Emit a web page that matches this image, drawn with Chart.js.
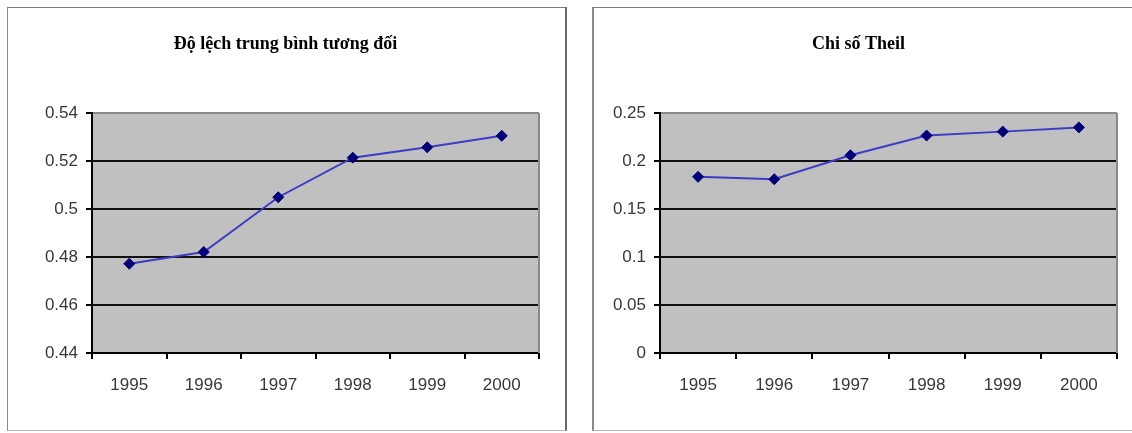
<!DOCTYPE html>
<html><head><meta charset="utf-8">
<script src="https://cdn.jsdelivr.net/npm/chart.js@4.4.0/dist/chart.umd.min.js"></script>
<style>
html,body{margin:0;padding:0;background:#fff;width:1132px;height:433px;overflow:hidden;}
.box{position:absolute;box-sizing:border-box;background:#fff;}
#b1{left:7px;top:7px;width:560px;height:424px;border-top:1px solid #7a7a7a;border-left:1px solid #8a8a8a;border-right:2px solid #6a6a6a;border-bottom:1px solid #b8b8b8;}
#b2{left:592px;top:7px;width:560px;height:424px;border-top:1px solid #7a7a7a;border-left:2px solid #8a8a8a;border-bottom:1px solid #b8b8b8;}
canvas{display:block;}
</style></head>
<body>
<div class="box" id="b1"><canvas id="c1" width="557" height="422"></canvas></div>
<div class="box" id="b2"><canvas id="c2" width="558" height="422"></canvas></div>
<script>
const years = ['1995', '1996', '1997', '1998', '1999', '2000'];
const relMeanDev = [0.4772, 0.4821, 0.5049, 0.5214, 0.5257, 0.5305];
const theilIndex = [0.1835, 0.181, 0.206, 0.2265, 0.2306, 0.235];
const leftTitle = 'Độ lệch trung bình tương đối';
const rightTitle = 'Chi số Theil';
const leftAxis = [0.44, 0.54, 0.02];
const rightAxis = [0, 0.25, 0.05];

const plotBg = {
  id: 'plotBg',
  beforeDraw(chart) {
    const {ctx, chartArea: a} = chart;
    ctx.save();
    ctx.fillStyle = '#c0c0c0';
    ctx.fillRect(a.left, a.top, a.right - a.left, a.bottom - a.top);
    ctx.restore();
  },
  afterDatasetsDraw(chart) {
    const {ctx, chartArea: a} = chart;
    ctx.save();
    ctx.strokeStyle = '#8a8a8a';
    ctx.lineWidth = 2;
    ctx.beginPath();
    ctx.moveTo(a.right, a.top);
    ctx.lineTo(a.right, a.bottom);
    ctx.stroke();
    ctx.restore();
  }
};

function makeChart(id, title, values, axis, padL, padR, yW) {
  const tickFont = {family: "'Liberation Sans', Arial, sans-serif", size: 17};
  return new Chart(document.getElementById(id), {
    type: 'line',
    data: {
      labels: years,
      datasets: [{
        data: values,
        borderColor: '#3c3cc4',
        borderWidth: 2,
        pointStyle: 'rectRot',
        pointRadius: 5.5,
        pointBackgroundColor: '#00007a',
        pointBorderColor: '#00007a',
        pointBorderWidth: 1,
        tension: 0,
        clip: false
      }]
    },
    options: {
      responsive: false,
      animation: false,
      events: [],
      layout: {padding: {left: padL, right: padR, top: 0, bottom: 0}},
      plugins: {
        legend: {display: false},
        tooltip: {enabled: false},
        title: {
          display: true,
          text: title,
          color: '#000',
          font: {family: "'Liberation Serif', 'Times New Roman', serif", size: 18, weight: 'bold', lineHeight: 1.2},
          padding: {top: 26, bottom: 57.4}
        }
      },
      scales: {
        x: {
          offset: true,
          grid: {offset: true, drawOnChartArea: false, drawTicks: true, tickLength: 6, color: '#000', lineWidth: 2},
          border: {color: '#000', width: 2},
          ticks: {color: '#383838', font: tickFont, padding: 16, maxRotation: 0},
          afterFit(s) { s.height = 77; }
        },
        y: {
          min: axis[0],
          max: axis[1],
          grid: {
            color: c => (c.tick && Math.abs(c.tick.value - axis[1]) < 1e-9) ? '#8a8a8a' : '#111',
            lineWidth: 2,
            tickLength: 6,
            tickColor: '#000'
          },
          border: {color: '#000', width: 2},
          ticks: {
            stepSize: axis[2],
            color: '#383838',
            font: tickFont,
            padding: 8,
            callback: v => String(+(+v).toFixed(2))
          },
          afterFit(s) { s.width = yW; }
        }
      }
    },
    plugins: [plotBg]
  });
}

makeChart('c1', leftTitle, relMeanDev, leftAxis, 24, 26, 60);
makeChart('c2', rightTitle, theilIndex, rightAxis, 6, 35, 60);
</script>
</body></html>
